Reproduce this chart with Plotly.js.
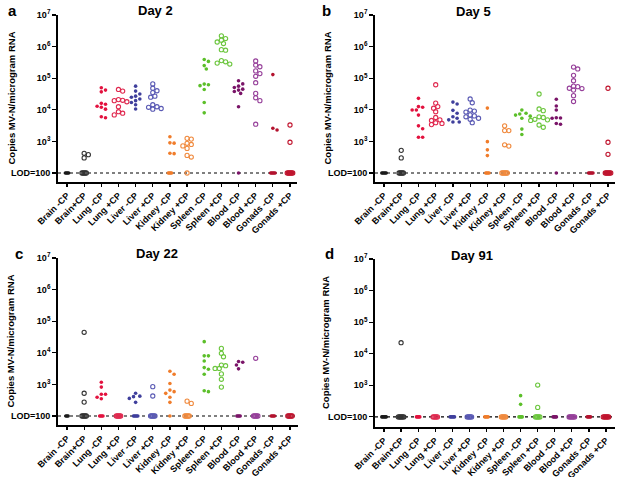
<!DOCTYPE html>
<html><head><meta charset="utf-8">
<script src="https://cdn.plot.ly/plotly-3.0.1.min.js"></script>
<style>html,body{margin:0;padding:0;background:#fff}#chart{width:624px;height:477px}</style>
</head><body><div id="chart"></div>
<script>
const categories = ["Brain -CP","Brain+CP","Lung -CP","Lung +CP","Liver -CP","Liver +CP","Kidney -CP","Kidney +CP","Spleen -CP","Spleen +CP","Blood -CP","Blood +CP","Gonads -CP","Gonads +CP"];
const LOD = 100;
const yTickVals = [100, 1e3, 1e4, 1e5, 1e6, 1e7];
const yTickText = ["LOD=100", "10<sup>3</sup>", "10<sup>4</sup>", "10<sup>5</sup>", "10<sup>6</sup>", "10<sup>7</sup>"];
const panelTitles = ["Day 2", "Day 5", "Day 22", "Day 91"];
const panelLetters = ["a", "b", "c", "d"];
const yTitle = "Copies MV-N/microgram RNA";

// values above LOD, per category
const day2Values = [
  [], [380, 300, 420],
  [50000, 42000, 37000, 16000, 15000, 13000, 12000, 10500, 6000, 5600],
  [44000, 39000, 21000, 20000, 19500, 18000, 12500, 8700, 7800, 6900],
  [56000, 39000, 31500, 27000, 25000, 22000, 19500, 17000, 14500, 10600],
  [66000, 48000, 40000, 35000, 27000, 25000, 14500, 12500, 11000, 10500, 12000],
  [1400, 900, 880, 420, 410],
  [1250, 1180, 870, 800, 720, 600, 360, 320],
  [390000, 340000, 250000, 195000, 65000, 62000, 58000, 44000, 17000, 8000],
  [2200000, 1800000, 1600000, 1400000, 1250000, 800000, 770000, 360000, 330000, 300000, 280000],
  [83000, 66000, 56000, 51000, 45000, 42000, 38000, 33000, 12500],
  [350000, 260000, 230000, 170000, 140000, 115000, 72000, 33000, 24000, 19500, 3500],
  [130000, 2600, 2300],
  [3300, 940]
];
const day2LOD = [4, 5, 0, 0, 0, 0, 4, 1, 0, 0, 1, 0, 5, 6];

const day5Values = [
  [], [520, 300],
  [23000, 12600, 12000, 9800, 9800, 6800, 3100, 2500, 1350, 1350],
  [62000, 16300, 12600, 11200, 8700, 5700, 4800, 4600, 3900, 3700, 3400],
  [17500, 15200, 9600, 7800, 6000, 5400, 4800, 4100, 4100],
  [22000, 16700, 9800, 9100, 8500, 6900, 6400, 6000, 5400, 5000, 3900],
  [11300, 980, 540, 355],
  [3100, 2200, 2200, 780, 710],
  [9800, 7800, 7400, 6800, 6300, 5400, 2450, 1650],
  [31600, 10600, 9400, 6000, 5700, 5000, 4800, 4600, 3300, 2800],
  [21600, 13200, 9800, 5600, 5500, 5400, 3700, 3500],
  [225000, 196000, 123000, 83000, 56000, 54000, 48000, 47000, 42000, 28000, 18300],
  [],
  [48000, 940, 390]
];
const day5LOD = [5, 5, 0, 0, 0, 0, 4, 6, 0, 0, 1, 0, 5, 6];

const day22Values = [
  [], [44500, 525, 275],
  [1170, 820, 490, 490, 390, 350],
  [],
  [525, 425, 410, 360, 270],
  [850, 430],
  [2600, 2100, 1070, 660, 590, 520, 390, 270],
  [295, 250],
  [22500, 8000, 8000, 5500, 3400, 3000, 2100, 630, 590],
  [13800, 9600, 7500, 4100, 3900, 3200, 3200, 2150, 1450, 820],
  [5300, 5000, 4100, 3100],
  [6700],
  [], []
];
const day22LOD = [3, 5, 4, 5, 5, 5, 1, 5, 0, 0, 4, 5, 4, 5];

const day91Values = [
  [], [22400], [], [], [], [], [], [],
  [470, 250],
  [1020, 200],
  [], [], [], []
];
const day91LOD = [5, 6, 4, 5, 5, 5, 4, 5, 4, 5, 4, 6, 4, 6];

const colorsFilled = ["#1a1a1a", "#333333", "#e3123f", "#e02a50", "#3f3f9c", "#5a5ab4", "#f07c2a", "#f08a3e", "#5cbf2a", "#6cc63e", "#7a1468", "#96409a", "#b3122e", "#c0142e"];

// ---- layout geometry (pixels) ----
const W = 624, H = 477;
const panels = [
  {x0: 58, x1: 297, yTop: 15, yBot: 182, c0: 67, c13: 290, ymin: 1.715},
  {x0: 375, x1: 615, yTop: 15, yBot: 182, c0: 384, c13: 608, ymin: 1.715},
  {x0: 58, x1: 298, yTop: 258, yBot: 425, c0: 67, c13: 290, ymin: 1.715},
  {x0: 375, x1: 615, yTop: 259, yBot: 427, c0: 384, c13: 606, ymin: 1.68}
];
const allValues = [day2Values, day5Values, day22Values, day91Values];
const allLOD = [day2LOD, day5LOD, day22LOD, day91LOD];

function swarm(vals, lodCount, pxCat, pxDec) {
  const D = 3.9, STEP = 2.1;
  const placed = [], xs = [], ys = [];
  const sorted = vals.slice().sort((a, b) => b - a);
  sorted.forEach(v => {
    const yp = Math.log10(v) * pxDec;
    let off = 0;
    for (let s = 0; s < 40; s++) {
      off = s === 0 ? 0 : (s % 2 ? 1 : -1) * Math.ceil(s / 2) * STEP;
      if (placed.every(p => Math.hypot(p[0] - off, p[1] - yp) >= D)) break;
    }
    placed.push([off, yp]);
    xs.push(off / pxCat); ys.push(v);
  });
  const sp = 1.1, w = (lodCount - 1) * sp;
  for (let j = 0; j < lodCount; j++) {
    xs.push((-w / 2 + j * sp) / pxCat); ys.push(LOD);
  }
  return {xs, ys};
}

const data = [];
const layout = {
  width: W, height: H, margin: {l: 0, r: 0, t: 0, b: 0},
  paper_bgcolor: "#fff", plot_bgcolor: "#fff", showlegend: false,
  font: {family: "Liberation Sans, Arial, sans-serif", color: "#000"},
  annotations: []
};

panels.forEach((P, pi) => {
  const sfx = pi === 0 ? "" : String(pi + 1);
  const xa = "x" + sfx, ya = "y" + sfx;
  const pxCat = (P.c13 - P.c0) / 13;
  const pxDec = (P.yBot - P.yTop) / (7 - P.ymin);
  const xr = [(P.x0 - P.c0) / pxCat, (P.x1 - P.c0) / pxCat];
  layout["xaxis" + sfx] = {
    domain: [P.x0 / W, P.x1 / W], range: xr, anchor: ya,
    tickvals: categories.map((c, i) => i), ticktext: categories,
    tickangle: -45, ticks: "outside", ticklen: 3, tickwidth: 1.2, tickcolor: "#000",
    showline: true, linewidth: 1.8, linecolor: "#000", showgrid: false, zeroline: false,
    tickfont: {size: 9, weight: "bold", color: "#000"}, fixedrange: true
  };
  layout["yaxis" + sfx] = {
    domain: [1 - P.yBot / H, 1 - P.yTop / H], range: [P.ymin, 7], type: "log", anchor: xa,
    tickvals: yTickVals, ticktext: yTickText,
    ticks: "outside", ticklen: 4, tickwidth: 1.2, tickcolor: "#000",
    showline: true, linewidth: 1.8, linecolor: "#000", showgrid: false, zeroline: false,
    tickfont: {size: 9, weight: "bold", color: "#000"}, fixedrange: true
  };
  // LOD line
  data.push({type: "scatter", mode: "lines", x: xr, y: [LOD, LOD], xaxis: xa, yaxis: ya,
    line: {color: "#000", width: 1.1, dash: "dot"}, hoverinfo: "skip"});
  const vals = allValues[pi], lods = allLOD[pi];
  categories.forEach((cat, ci) => {
    const s = swarm(vals[ci], lods[ci], pxCat, pxDec);
    if (!s.ys.length) return;
    const open = ci % 2 === 1;
    data.push({
      type: "scatter", mode: "markers", xaxis: xa, yaxis: ya, name: cat,
      x: s.xs.map(o => ci + o), y: s.ys, cliponaxis: false,
      marker: open
        ? {symbol: "circle-open", size: 4.2, color: colorsFilled[ci], line: {width: 1.1, color: colorsFilled[ci]}}
        : {symbol: "circle", size: 3.6, color: colorsFilled[ci], line: {width: 0}}
    });
  });
  const lx = [12, 326, 19, 329][pi], ly = [11, 11, 253, 253][pi];
  const tx = [155, 473, 157, 472][pi], ty = [11, 12, 254, 255][pi];
  const yx = [11, 327, 10, 325][pi];
  layout.annotations.push(
    {xref: "paper", yref: "paper", x: lx / W, y: 1 - ly / H, text: panelLetters[pi], showarrow: false,
     xanchor: "center", yanchor: "middle", font: {size: 15, weight: "bold", color: "#000"}},
    {xref: "paper", yref: "paper", x: tx / W, y: 1 - ty / H, text: panelTitles[pi], showarrow: false,
     xanchor: "center", yanchor: "middle", font: {size: 13, weight: "bold", color: "#000"}},
    {xref: "paper", yref: "paper", x: yx / W, y: 1 - ((P.yTop + P.yBot) / 2) / H, text: yTitle, showarrow: false,
     textangle: -90, xanchor: "center", yanchor: "middle", font: {size: 9.5, weight: "bold", color: "#000"}}
  );
});

Plotly.newPlot("chart", data, layout, {staticPlot: true, displayModeBar: false});
</script></body></html>
